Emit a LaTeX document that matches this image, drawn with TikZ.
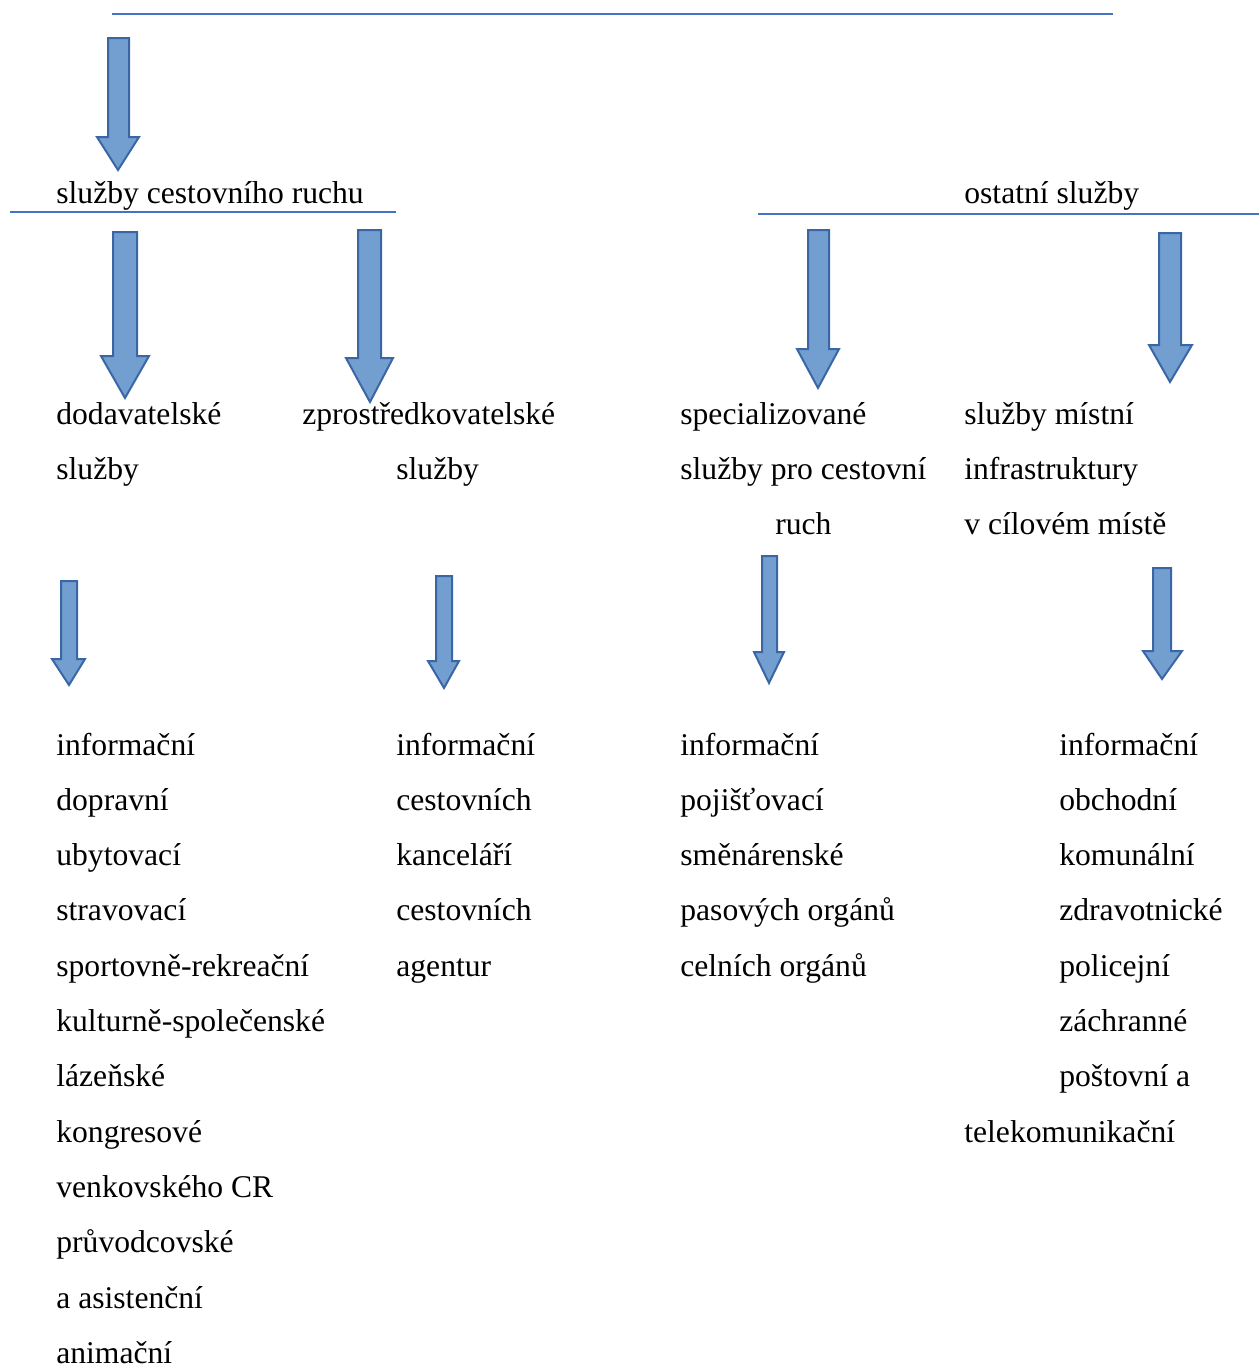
\documentclass[tikz,border=0pt]{standalone}
\usepackage{fontspec}
\setmainfont{Liberation Serif}
\definecolor{afill}{RGB}{114,159,207}
\definecolor{aline}{RGB}{58,102,166}
\definecolor{hline}{RGB}{68,114,196}
\tikzset{
  blk/.style={fill=afill,draw=aline,line width=0.04cm,line join=miter},
  lbl/.style={anchor=base west,inner sep=0pt,font=\fontsize{18}{22}\selectfont},
  rule/.style={draw=hline,line width=0.04cm}
}
% shaft-left, shaft-right, top, head-left, head-right, head-base, tip-x, tip-y
\newcommand\dnarrow[8]{%
  \draw[blk] (#1,#3) -- (#2,#3) -- (#2,#6) -- (#5,#6) -- (#7,#8) -- (#4,#6) -- (#1,#6) -- cycle;}
\begin{document}
\begin{tikzpicture}[x=0.02cm,y=-0.02cm]
\useasboundingbox (0,0) rectangle (1259,1367);
% rules
\coordinate (r1a) at (112,14);  \coordinate (r1b) at (1113,14);
\coordinate (r2a) at (10,212);  \coordinate (r2b) at (396,212);
\coordinate (r3a) at (758,214); \coordinate (r3b) at (1259,214);
\draw[rule] (r1a) -- (r1b);
\draw[rule] (r2a) -- (r2b);
\draw[rule] (r3a) -- (r3b);
% block arrows
\dnarrow{108}{129}{38}{97}{139}{137}{118}{170}
\dnarrow{113}{137}{232}{101}{149}{356}{125}{398}
\dnarrow{358}{381}{230}{346}{393}{358}{370}{402}
\dnarrow{808}{829}{230}{797}{839}{349}{818}{388}
\dnarrow{1159}{1181}{233}{1149}{1192}{345}{1170}{382}
\dnarrow{61}{77}{581}{52}{85}{659}{69}{685}
\dnarrow{436}{452}{576}{428}{459}{661}{444}{688}
\dnarrow{762}{777}{556}{754}{784}{652}{769}{683}
\dnarrow{1153}{1171}{568}{1143}{1182}{651}{1162}{679}
% headings
\node[lbl] (scr) at (56,203) {služby cestovního ruchu};
\node[lbl] (os) at (964,203) {ostatní služby};
\node[lbl] (d1) at (56,424) {dodavatelské};
\node[lbl] (d2) at (56,479.3) {služby};
\node[lbl] (z1) at (302,424) {zprostředkovatelské};
\node[lbl] (z2) at (396,479.3) {služby};
\node[lbl] (s1) at (680,424) {specializované};
\node[lbl] (s2) at (680,479.3) {služby pro cestovní};
\node[lbl] (s3) at (775,534.6) {ruch};
\node[lbl] (m1) at (964,424) {služby místní};
\node[lbl] (m2) at (964,479.3) {infrastruktury};
\node[lbl] (m3) at (964,534.6) {v cílovém místě};
% lists
\foreach \t [count=\i from 0] in {informační,dopravní,ubytovací,stravovací,sportovně-rekreační,kulturně-společenské,lázeňské,kongresové,venkovského CR,průvodcovské,a asistenční}
  \node[lbl,name=la\i] at (56,{755+55.3*\i}) {\t};
\node[lbl,text depth=0pt] (la11) at (56,{755+55.3*11}) {animační};
\foreach \t [count=\i from 0] in {informační,cestovních,kanceláří,cestovních,agentur}
  \node[lbl,name=lb\i] at (396,{755+55.3*\i}) {\t};
\foreach \t [count=\i from 0] in {informační,pojišťovací,směnárenské,pasových orgánů,celních orgánů}
  \node[lbl,name=lc\i] at (680,{755+55.3*\i}) {\t};
\foreach \t [count=\i from 0] in {informační,obchodní,komunální,zdravotnické,policejní,záchranné,poštovní a}
  \node[lbl,name=ld\i] at (1059,{755+55.3*\i}) {\t};
\node[lbl] (ld7) at (964,{755+55.3*7}) {telekomunikační};
\end{tikzpicture}
\end{document}
